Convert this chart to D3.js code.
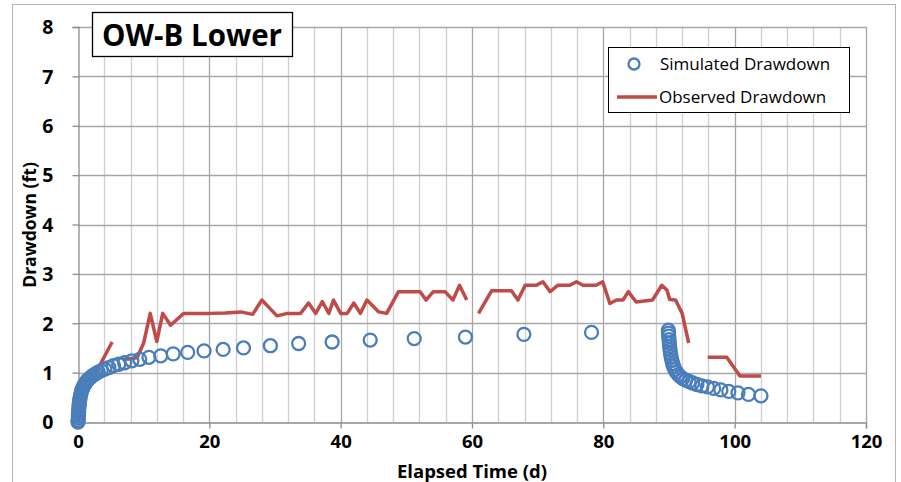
<!DOCTYPE html>
<html>
<head>
<meta charset="utf-8">
<script src="https://cdn.jsdelivr.net/npm/d3@7"></script>
<style>
  html, body { margin: 0; padding: 0; background: #fff; }
  svg { display: block; }
</style>
</head>
<body>
<svg id="chart" width="901" height="482"></svg>
<script>
// Simulated drawdown (ft) at elapsed time (d): pumping then recovery
const simTime = [0.0, 0.02, 0.04, 0.06, 0.08, 0.1, 0.13, 0.16, 0.2, 0.25, 0.3, 0.37, 0.45, 0.55, 0.66, 0.8, 0.95,
  1.15, 1.35, 1.55, 1.8, 2.05, 2.35, 2.7, 3.1, 3.55, 4.1, 4.7, 5.4, 6.2, 7.1, 8.2, 9.4, 10.8, 12.6, 14.5, 16.7,
  19.2, 22.1, 25.2, 29.3, 33.6, 38.7, 44.5, 51.2, 59.0, 67.9, 78.2, 89.9,
  89.93, 89.96, 90.0, 90.05, 90.1, 90.16, 90.23, 90.32, 90.43, 90.56, 90.72, 90.9, 91.12, 91.4, 91.72, 92.1,
  92.55, 93.05, 93.6, 94.25, 95.0, 95.85, 96.8, 97.9, 99.1, 100.5, 102.1, 104.0];
const simDrawdown = [0.0, 0.03, 0.08, 0.13, 0.18, 0.22, 0.28, 0.33, 0.38, 0.43, 0.48, 0.53, 0.58, 0.63, 0.67, 0.71, 0.75,
  0.79, 0.83, 0.86, 0.89, 0.92, 0.95, 0.98, 1.01, 1.04, 1.07, 1.10, 1.14, 1.17, 1.20, 1.24, 1.27, 1.31, 1.34, 1.38, 1.41,
  1.44, 1.47, 1.50, 1.545, 1.59, 1.62, 1.66, 1.69, 1.72, 1.775, 1.815, 1.86,
  1.80, 1.74, 1.67, 1.60, 1.53, 1.46, 1.39, 1.32, 1.25, 1.18, 1.12, 1.06, 1.01, 0.96, 0.92, 0.88,
  0.85, 0.82, 0.79, 0.76, 0.73, 0.71, 0.68, 0.65, 0.62, 0.59, 0.56, 0.53];

// Observed drawdown (ft); null marks a gap in the record
const obsTime = [0.0, 0.3, 1.0, 2.0, 2.6, 3.2, 5.2, null,
  6.8, 9.0, 10.0, 11.0, 12.0, 12.9, 14.1, 16.1, 20.0, 22.5, 24.8, 26.6, 28.0, 30.3, 31.9, 33.9, 35.1, 36.2, 37.2,
  38.2, 38.9, 40.0, 41.0, 42.0, 43.0, 44.0, 45.8, 47.0, 48.8, 52.1, 53.0, 54.1, 55.9, 57.1, 58.1, 59.2, null,
  61.0, 63.0, 66.0, 67.0, 68.1, 69.8, 70.8, 71.9, 73.1, 74.9, 75.9, 76.9, 78.9, 79.9, 81.0, 82.0, 83.0, 83.8, 85.0,
  87.5, 88.9, 89.7, 90.1, 91.0, 92.0, 93.0, null,
  95.9, 98.8, 100.8, 104.0];
const obsDrawdown = [0.0, 0.45, 0.75, 0.92, 1.0, 1.12, 1.62, null,
  1.26, 1.30, 1.60, 2.20, 1.63, 2.20, 1.96, 2.20, 2.20, 2.21, 2.23, 2.18, 2.47, 2.15, 2.20, 2.20, 2.41, 2.20, 2.44,
  2.20, 2.47, 2.20, 2.20, 2.41, 2.20, 2.47, 2.23, 2.20, 2.64, 2.64, 2.47, 2.64, 2.64, 2.47, 2.77, 2.47, null,
  2.20, 2.66, 2.66, 2.47, 2.77, 2.77, 2.84, 2.64, 2.77, 2.77, 2.84, 2.77, 2.77, 2.84, 2.40, 2.47, 2.47, 2.64, 2.43,
  2.47, 2.77, 2.67, 2.48, 2.47, 2.20, 1.60, null,
  1.31, 1.31, 0.93, 0.93];

const xTicks = [0, 20, 40, 60, 80, 100, 120];
const xGrid = [4, 8, 12, 16, 24, 28, 32, 36, 44, 48, 52, 56, 64, 68, 72, 76, 84, 88, 92, 96, 104, 108, 112, 116];
const yTicks = [0, 1, 2, 3, 4, 5, 6, 7, 8];

const FONT = "'Open Sans', 'Liberation Sans', sans-serif";

const svg = d3.select("#chart");
const plot = { left: 78, right: 866, top: 27, bottom: 422 };

const x = d3.scaleLinear().domain([0, 120]).range([plot.left, plot.right]);
const y = d3.scaleLinear().domain([0, 8]).range([plot.bottom, plot.top]);

// chart frame
svg.append("rect")
  .attr("x", 12.5).attr("y", 4.5).attr("width", 883).attr("height", 490)
  .attr("fill", "#fff").attr("stroke", "#b3b3b3").attr("stroke-width", 1);

// minor vertical gridlines
svg.append("g").selectAll("line").data(xGrid).join("line")
  .attr("x1", d => Math.round(x(d)) + 0.5).attr("x2", d => Math.round(x(d)) + 0.5)
  .attr("y1", plot.top).attr("y2", plot.bottom)
  .attr("stroke", "#cfcfcf").attr("stroke-width", 1.3);

// major vertical gridlines
svg.append("g").selectAll("line").data(xTicks.slice(1)).join("line")
  .attr("x1", d => Math.round(x(d)) + 0.5).attr("x2", d => Math.round(x(d)) + 0.5)
  .attr("y1", plot.top).attr("y2", plot.bottom)
  .attr("stroke", "#a6a6a6").attr("stroke-width", 1.3);

// horizontal gridlines
svg.append("g").selectAll("line").data(yTicks.slice(1)).join("line")
  .attr("x1", plot.left).attr("x2", plot.right)
  .attr("y1", d => Math.round(y(d)) + 0.5).attr("y2", d => Math.round(y(d)) + 0.5)
  .attr("stroke", "#a6a6a6").attr("stroke-width", 1.3);

// axes
const xAxis = d3.axisBottom(x).tickValues(xTicks).tickSize(6).tickPadding(6);
const yAxis = d3.axisLeft(y).tickValues(yTicks).tickSize(6).tickPadding(19);

const gx = svg.append("g").attr("transform", `translate(0,${plot.bottom + 0.5})`).call(xAxis);
const gy = svg.append("g").attr("transform", `translate(${plot.left + 0.5},0)`).call(yAxis);

[gx, gy].forEach(g => {
  g.select(".domain").attr("stroke", "#8c8c8c").attr("stroke-width", 1.3);
  g.selectAll(".tick line").attr("stroke", "#8c8c8c").attr("stroke-width", 1.3);
  g.selectAll(".tick text")
    .attr("fill", "#000")
    .style("font-family", FONT)
    .style("font-weight", "bold")
    .style("font-size", "18.5px");
});
gy.selectAll(".tick text").attr("dy", "0.35em").style("font-size", "19.5px");

// axis titles
svg.append("text")
  .attr("x", 472).attr("y", 477.5)
  .attr("text-anchor", "middle")
  .style("font-family", FONT)
  .style("font-weight", "bold").style("font-size", "18.5px")
  .text("Elapsed Time (d)");

svg.append("text")
  .attr("transform", "translate(36,225) rotate(-90)")
  .attr("text-anchor", "middle")
  .style("font-family", FONT)
  .style("font-weight", "bold").style("font-size", "17.5px")
  .text("Drawdown (ft)");

// observed drawdown line
const obs = obsTime.map((t, i) => ({ t, v: obsDrawdown[i] }));
const line = d3.line()
  .defined(d => d.t !== null && d.v !== null)
  .x(d => x(d.t)).y(d => y(d.v));

svg.append("path")
  .datum(obs)
  .attr("d", line)
  .attr("fill", "none")
  .attr("stroke", "#be4b48")
  .attr("stroke-width", 3.5)
  .attr("stroke-linejoin", "round");

// simulated drawdown markers
const sim = simTime.map((t, i) => ({ t, v: simDrawdown[i] }));
svg.append("g").selectAll("circle").data(sim).join("circle")
  .attr("cx", d => x(d.t)).attr("cy", d => y(d.v))
  .attr("r", 6.5)
  .attr("fill", "none")
  .attr("stroke", "#4a7ebb")
  .attr("stroke-width", 2.3);

// title box
const title = svg.append("g");
title.append("rect")
  .attr("x", 92.5).attr("y", 12.5).attr("width", 200).attr("height", 44)
  .attr("fill", "#fff").attr("stroke", "#000").attr("stroke-width", 1.3);
title.append("text")
  .attr("x", 192).attr("y", 45.5)
  .attr("text-anchor", "middle")
  .style("font-family", FONT)
  .style("font-weight", "bold").style("font-size", "29.5px")
  .text("OW-B Lower");

// legend
const legend = svg.append("g");
legend.append("rect")
  .attr("x", 608.5).attr("y", 47.5).attr("width", 241).attr("height", 65)
  .attr("fill", "#fff").attr("stroke", "#000").attr("stroke-width", 1);
legend.append("circle")
  .attr("cx", 634).attr("cy", 64).attr("r", 5.5)
  .attr("fill", "none").attr("stroke", "#4a7ebb").attr("stroke-width", 2.3);
legend.append("line")
  .attr("x1", 617).attr("x2", 657).attr("y1", 97).attr("y2", 97)
  .attr("stroke", "#be4b48").attr("stroke-width", 3.5);
const legendText = [["Simulated Drawdown", 660, 64], ["Observed Drawdown", 659, 97]];
legend.selectAll("text.item").data(legendText).join("text")
  .attr("class", "item")
  .attr("x", d => d[1]).attr("y", d => d[2]).attr("dy", "0.35em")
  .style("font-family", FONT)
  .style("font-size", "17px")
  .text(d => d[0]);
</script>
</body>
</html>
